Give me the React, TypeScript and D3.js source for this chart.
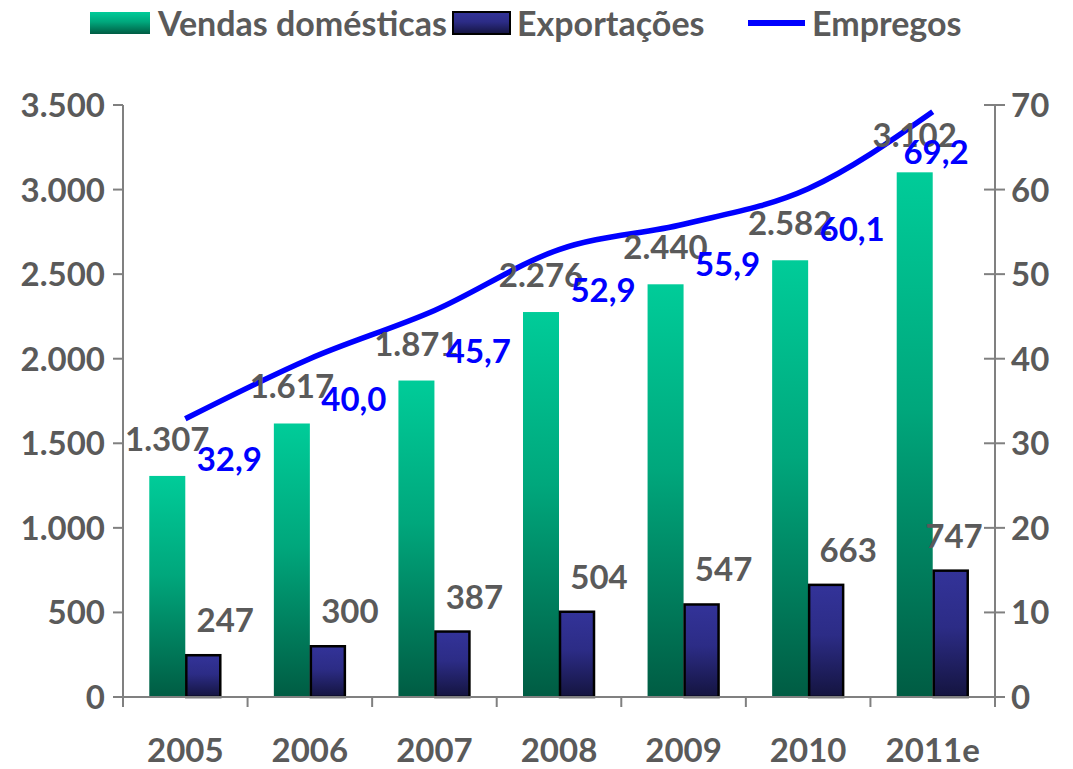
import React from "react";
import * as d3 from "d3";

const categories = ["2005", "2006", "2007", "2008", "2009", "2010", "2011e"];
const vendas = [1307, 1617, 1871, 2276, 2440, 2582, 3102];
const exportacoes = [247, 300, 387, 504, 547, 663, 747];
const empregos = [32.9, 40.0, 45.7, 52.9, 55.9, 60.1, 69.2];
const leftTicks = [0, 500, 1000, 1500, 2000, 2500, 3000, 3500];
const rightTicks = [0, 10, 20, 30, 40, 50, 60, 70];

const W = 1073;
const H = 769;
const X0 = 123;
const X1 = 995;
const Y0 = 697;
const Y1 = 105;
const GRAY = "#5a5a5a";
const AXIS = "#808080";
const FONT = "Lato, 'Open Sans', sans-serif";
const FS = 33;

const fmtThousands = (v: number) => {
  const s = String(Math.round(v));
  return s.replace(/\B(?=(\d{3})+(?!\d))/g, ".");
};
const fmtComma = (v: number) => v.toFixed(1).replace(".", ",");

export default function App() {
  const x = d3.scaleBand<string>().domain(categories).range([X0, X1]).padding(0);
  const yL = d3.scaleLinear().domain([0, 3500]).range([Y0, Y1]);
  const yR = d3.scaleLinear().domain([0, 70]).range([Y0, Y1]);
  const barW = 36;
  const cx = (c: string) => (x(c) as number) + x.bandwidth() / 2;

  const line = d3
    .line<number>()
    .x((_, i) => cx(categories[i]))
    .y((d) => yR(d))
    .curve(d3.curveMonotoneX);

  const boundaries = categories.map((c) => x(c) as number).concat([X1]);

  return (
    <svg width={W} height={H} style={{ display: "block", position: "absolute", left: 0, top: 0 }} fontFamily={FONT}>
      <defs>
        <linearGradient id="gGreen" x1="0" y1="0" x2="0" y2="1">
          <stop offset="0" stopColor="#00CC99" />
          <stop offset="0.45" stopColor="#00A77C" />
          <stop offset="1" stopColor="#005C43" />
        </linearGradient>
        <linearGradient id="gBlue" x1="0" y1="0" x2="0" y2="1">
          <stop offset="0" stopColor="#333399" />
          <stop offset="0.45" stopColor="#2C2C86" />
          <stop offset="1" stopColor="#14143F" />
        </linearGradient>
      </defs>

      {/* Legend */}
      <g>
        <rect x={90} y={12} width={60} height={22} fill="url(#gGreen)" />
        <text x={158} y={36} fontSize={34} fontWeight={700} fill={GRAY}>Vendas domésticas</text>
        <rect x={453} y={12} width={57} height={22} fill="url(#gBlue)" stroke="#000" strokeWidth={2} />
        <text x={517} y={36} fontSize={34} fontWeight={700} fill={GRAY}>Exportações</text>
        <line x1={748} x2={805} y1={23} y2={23} stroke="#0000FF" strokeWidth={6} />
        <text x={812} y={36} fontSize={34} fontWeight={700} fill={GRAY}>Empregos</text>
      </g>

      {/* Bars */}
      {categories.map((c, i) => (
        <g key={c}>
          <rect x={cx(c) - barW} y={yL(vendas[i])} width={barW} height={Y0 - yL(vendas[i])} fill="url(#gGreen)" />
          <rect x={cx(c) + 1} y={yL(exportacoes[i])} width={barW - 2} height={Y0 - yL(exportacoes[i])} fill="url(#gBlue)" stroke="#000" strokeWidth={2.5} />
        </g>
      ))}

      {/* Line */}
      <path d={line(empregos) || ""} fill="none" stroke="#0000FF" strokeWidth={5.5} strokeLinejoin="round" />

      {/* Axes */}
      <g stroke={AXIS} strokeWidth={2}>
        <line x1={X0} x2={X0} y1={Y1} y2={Y0} />
        <line x1={X1} x2={X1} y1={Y1} y2={Y0 + 10} />
        <line x1={X0 - 10} x2={X1 + 10} y1={Y0} y2={Y0} />
        {leftTicks.map((t) => (
          <line key={"l" + t} x1={X0 - 10} x2={X0} y1={yL(t)} y2={yL(t)} />
        ))}
        {rightTicks.map((t) => (
          <line key={"r" + t} x1={X1 - 11} x2={X1 + 10} y1={yR(t)} y2={yR(t)} />
        ))}
        {boundaries.map((b, i) => (
          <line key={"b" + i} x1={b} x2={b} y1={Y0} y2={Y0 + 10} />
        ))}
      </g>

      {/* Tick labels */}
      {leftTicks.map((t) => (
        <text key={"lt" + t} x={105} y={yL(t) + 12} textAnchor="end" fontSize={FS} fontWeight={700} fill={GRAY}>
          {fmtThousands(t)}
        </text>
      ))}
      {rightTicks.map((t) => (
        <text key={"rt" + t} x={1011} y={yR(t) + 12} textAnchor="start" fontSize={FS} fontWeight={700} fill={GRAY}>
          {t}
        </text>
      ))}
      {categories.map((c) => (
        <text key={"xt" + c} x={cx(c)} y={762} textAnchor="middle" fontSize={33} fontWeight={700} fill={GRAY}>
          {c}
        </text>
      ))}

      {/* Data labels */}
      {categories.map((c, i) => (
        <text key={"vl" + c} x={cx(c) - barW / 2} y={yL(vendas[i]) - 25} textAnchor="middle" fontSize={FS} fontWeight={700} fill={GRAY}>
          {fmtThousands(vendas[i])}
        </text>
      ))}
      {categories.map((c, i) => {
        const px = Math.min(cx(c) + barW / 2 + 22, X1 - 14 - 27);
        return (
          <text key={"el" + c} x={px} y={yL(exportacoes[i]) - 23} textAnchor="middle" fontSize={FS} fontWeight={700} fill={GRAY}>
            {fmtThousands(exportacoes[i])}
          </text>
        );
      })}
      {categories.map((c, i) => {
        const px = Math.min(cx(c) + 44, X1 - 27 - 32);
        return (
          <text key={"jl" + c} x={px} y={yR(empregos[i]) + 52} textAnchor="middle" fontSize={FS} fontWeight={700} fill="#0000FF">
            {fmtComma(empregos[i])}
          </text>
        );
      })}
    </svg>
  );
}
